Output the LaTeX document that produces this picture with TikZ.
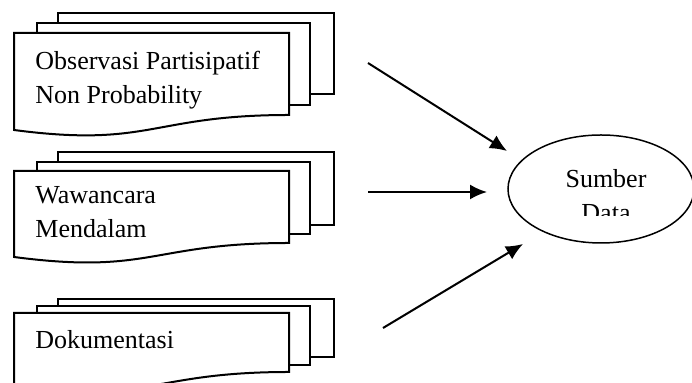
\documentclass[tikz,border=0pt]{standalone}
\usepackage{fontspec}
\setmainfont{Liberation Serif}
\usetikzlibrary{shapes.geometric,arrows.meta}
\tikzset{
  sheet/.style={draw, fill=white, line width=1pt},
  doctext/.style={anchor=north west, inner sep=0pt, align=left, font=\fontsize{13}{17}\selectfont},
  conn/.style={draw, line width=1pt, -{Latex[length=8.5pt,width=7.5pt]}},
}
\begin{document}
\begin{tikzpicture}[x=0.5pt,y=-0.5pt]
\useasboundingbox (0,0) rectangle (692,383);
\clip (0,0) rectangle (692,383);

\path[sheet] (58,13) rectangle (334,94);
\path[sheet] (37,23) rectangle (310,105);
\path[sheet] (14,33) -- (289,33) -- (289,115) .. controls (151,115) and (151,148) .. (14,130) -- cycle;
\node[doctext] (obs) at (35,51) {Observasi Partisipatif\\Non Probability};

\path[sheet] (58,152) rectangle (334,225);
\path[sheet] (37,162) rectangle (310,234);
\path[sheet] (14,171) -- (289,171) -- (289,243) .. controls (151,243) and (151,275) .. (14,257) -- cycle;
\node[doctext] (waw) at (35,186) {Wawancara\\Mendalam};

\path[sheet] (58,299) rectangle (334,357);
\path[sheet] (37,306) rectangle (310,365);
\path[sheet] (14,313) -- (289,313) -- (289,372) .. controls (151,372) and (151,404) .. (14,386) -- cycle;
\node[doctext] (dok) at (35,330) {Dokumentasi};

\node[draw, ellipse, line width=0.75pt, minimum width=93pt, minimum height=54pt] (sumber) at (601,189) {};
\begin{scope}
\clip (500,100) rectangle (692,216);
\node[anchor=north, inner sep=0pt, align=center, font=\fontsize{13}{17}\selectfont] (sd) at (606,169) {Sumber\\Data};
\end{scope}

\coordinate (a1) at (368,63);
\coordinate (b1) at (507,151);
\coordinate (a2) at (368,192);
\coordinate (b2) at (487,192);
\coordinate (a3) at (383,328);
\coordinate (b3) at (523,244);

\path[conn] (a1) -- (b1);
\path[conn] (a2) -- (b2);
\path[conn] (a3) -- (b3);
\end{tikzpicture}
\end{document}
